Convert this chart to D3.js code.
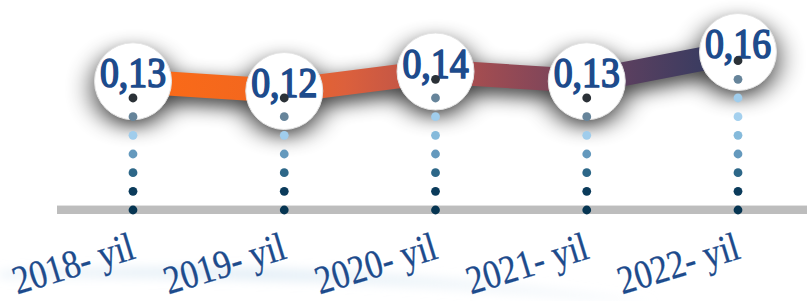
<!DOCTYPE html>
<html>
<head>
<meta charset="utf-8">
<script src="https://cdn.jsdelivr.net/npm/d3@7"></script>
<style>
  html, body { margin: 0; padding: 0; background: #fff; }
  svg { display: block; }
</style>
</head>
<body>
<div id="chart"></div>
<script>
// data
var years = ["2018", "2019", "2020", "2021", "2022"];
var values = [0.13, 0.12, 0.14, 0.13, 0.16];
var labels = ["0,13", "0,12", "0,14", "0,13", "0,16"];

var width = 807;
var height = 301;
var baseY = 210;
var dotStep = 18.67;
var radius = 38.5;

var svg = d3.select("#chart")
  .append("svg")
  .attr("width", width)
  .attr("height", height);

var x = d3.scalePoint().domain(years).range([133, 738]);
var y = d3.scaleLinear().domain([0.12, 0.16]).range([91, 52]);

var defs = svg.append("defs");

// gradient along the line
var grad = defs.append("linearGradient")
  .attr("id", "lineGrad")
  .attr("gradientUnits", "userSpaceOnUse")
  .attr("x1", x(years[0])).attr("x2", x(years[years.length - 1]))
  .attr("y1", 0).attr("y2", 0);
[[0, "#fc6b16"], [0.2, "#f3671e"], [0.35, "#dc603c"], [0.5, "#b7514b"],
 [0.65, "#8c4857"], [0.8, "#5e405f"], [1, "#2c3a61"]].forEach(function (s) {
  grad.append("stop").attr("offset", s[0]).attr("stop-color", s[1]);
});

// soft drop shadow
var shadow = defs.append("filter")
  .attr("id", "shadow")
  .attr("x", "-50%").attr("y", "-50%")
  .attr("width", "200%").attr("height", "200%");
shadow.append("feGaussianBlur").attr("in", "SourceAlpha").attr("stdDeviation", "14 10");
shadow.append("feOffset").attr("dx", 0).attr("dy", 7).attr("result", "off");
shadow.append("feComponentTransfer").append("feFuncA").attr("type", "linear").attr("slope", 0.8);

var blur = defs.append("filter").attr("id", "blur")
  .attr("x", "-20%").attr("y", "-50%").attr("width", "140%").attr("height", "200%");
blur.append("feGaussianBlur").attr("stdDeviation", 5);

var swooshGrad = defs.append("linearGradient").attr("id", "swoosh")
  .attr("x1", 0).attr("x2", 1).attr("y1", 0).attr("y2", 0);
swooshGrad.append("stop").attr("offset", 0).attr("stop-color", "#dbe9f4").attr("stop-opacity", 0.4);
swooshGrad.append("stop").attr("offset", 0.4).attr("stop-color", "#d6e6f2").attr("stop-opacity", 0.6);
swooshGrad.append("stop").attr("offset", 1).attr("stop-color", "#e4eef6").attr("stop-opacity", 0.15);

// faint swoosh behind the labels
svg.append("path")
  .attr("d", "M0,270 C180,262 420,266 660,301 L580,301 C400,282 200,276 0,279 Z")
  .attr("fill", "url(#swoosh)")
  .attr("filter", "url(#blur)");

var pts = years.map(function (d, i) {
  return { year: d, value: values[i], label: labels[i], x: x(d), y: y(values[i]) };
});

var line = d3.line().x(function (d) { return d.x; }).y(function (d) { return d.y; });

// shadow layer
var sh = svg.append("g").attr("filter", "url(#shadow)");
sh.append("path").attr("d", line(pts)).attr("fill", "none")
  .attr("stroke", "#000").attr("stroke-width", 24);
sh.selectAll("circle").data(pts).enter().append("circle")
  .attr("cx", function (d) { return d.x; })
  .attr("cy", function (d) { return d.y; })
  .attr("r", radius).attr("fill", "#000");

// baseline
svg.append("rect")
  .attr("x", 57).attr("y", baseY - 5)
  .attr("width", width - 57).attr("height", 9)
  .attr("fill", "#bdbdbd");
svg.append("rect")
  .attr("x", 57).attr("y", baseY - 5)
  .attr("width", width - 57).attr("height", 1)
  .attr("fill", "#e2e2e2");

// thick gradient line
svg.append("path")
  .attr("d", line(pts))
  .attr("fill", "none")
  .attr("stroke", "url(#lineGrad)")
  .attr("stroke-width", 24);

// white circles
svg.selectAll("circle.node").data(pts).enter().append("circle")
  .attr("class", "node")
  .attr("cx", function (d) { return d.x; })
  .attr("cy", function (d) { return d.y; })
  .attr("r", radius)
  .attr("fill", "#fff")
  .attr("stroke", "#e4e4e4")
  .attr("stroke-width", 1);

// value labels
svg.selectAll("text.val").data(pts).enter().append("text")
  .attr("class", "val")
  .attr("transform", function (d) { return "translate(" + d.x + "," + (d.y + 6) + ") scale(0.9,1)"; })
  .attr("text-anchor", "middle")
  .attr("font-family", "'Liberation Serif', serif")
  .attr("font-size", 42)
  .attr("fill", "#1d4b8c")
  .attr("stroke", "#1d4b8c")
  .attr("stroke-width", 1.7)
  .attr("stroke-linejoin", "round")
  .text(function (d) { return d.label; });

// dotted drop lines
var topColors = ["#2b3137", "#66849a", "#a0cdec"];
var lowColor = d3.scaleLinear()
  .domain([117, 135, 154, 172.7, 191.3, 210])
  .range(["#a3d0ee", "#86bbdc", "#6499bd", "#2d6788", "#0b3b5b", "#063552"]);

pts.forEach(function (d) {
  var ys = [];
  for (var k = 0; baseY - k * dotStep > d.y + 5; k++) ys.push(baseY - k * dotStep);
  ys.reverse();
  svg.append("g").selectAll("circle").data(ys).enter().append("circle")
    .attr("cx", d.x)
    .attr("cy", function (v) { return v; })
    .attr("r", 4.4)
    .attr("fill", function (v, i) { return i < 3 ? topColors[i] : lowColor(v); });
});

// year labels
svg.selectAll("text.year").data(pts).enter().append("text")
  .attr("class", "year")
  .attr("transform", function (d) { return "translate(" + (d.x + 4) + ",258) rotate(-17) scale(0.86,1)"; })
  .attr("text-anchor", "end")
  .attr("font-family", "'Liberation Serif', serif")
  .attr("font-size", 40)
  .attr("fill", "#1d4b8c")
  .attr("stroke", "#1d4b8c")
  .attr("stroke-width", 0.3)
  .text(function (d) { return d.year + "- yil"; });
</script>
</body>
</html>
